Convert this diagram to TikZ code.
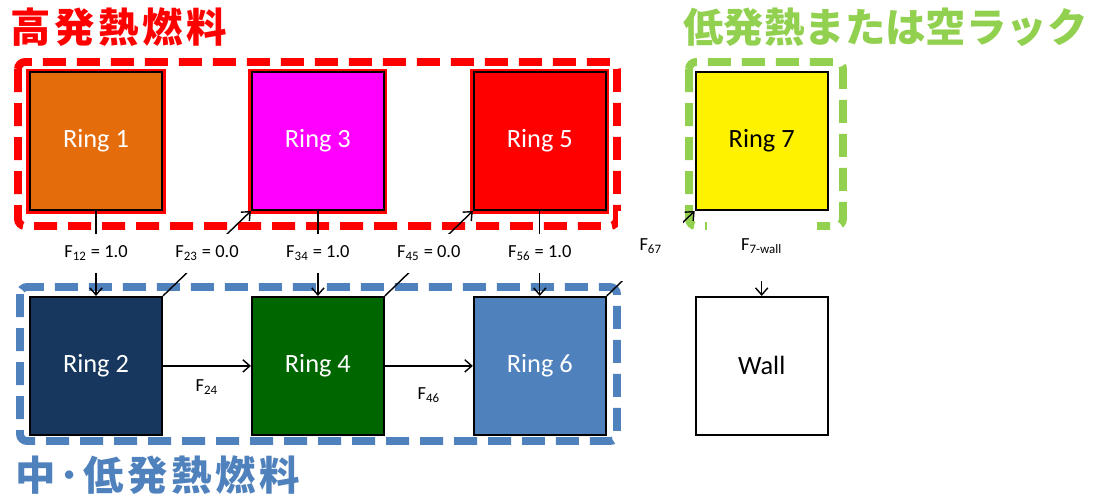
\documentclass[tikz,border=0pt]{standalone}
\usepackage{fontspec}
\setmainfont{Carlito}
\newfontfamily\cjk{Noto Sans CJK JP}
\newfontfamily\cjkwide{Noto Sans CJK JP}[LetterSpace=9]
\usetikzlibrary{positioning,arrows.meta}

\definecolor{hotred}{HTML}{FF0000}
\definecolor{midblue}{HTML}{4F81BD}
\definecolor{lowgreen}{HTML}{92D050}
\definecolor{ringorange}{HTML}{E46C0A}
\definecolor{ringpink}{HTML}{FF00FF}
\definecolor{ringnavy}{HTML}{17375E}
\definecolor{ringgreen}{HTML}{006600}

\begin{document}
\begin{tikzpicture}[x=0.02cm, y=-0.02cm, node distance=1.7cm and 1.76cm,
    >={Straight Barb[length=4pt,width=7pt]},
    ring/.style={draw, line width=1.1pt, minimum width=2.64cm, minimum height=2.76cm,
      inner sep=0pt, text=white, font=\fontsize{15}{18}\selectfont},
    hot/.style={ring, preaction={draw=hotred, line width=4pt}},
    flabel/.style={fill=white, inner sep=1pt, minimum height=0.78cm,
      font=\fontsize{10.5}{12}\selectfont},
    frame/.style={line width=4.5pt, dash pattern=on 0.46cm off 0.22cm, rounded corners=4pt},
    title/.style={anchor=west, inner sep=0pt, font=\cjk\bfseries\fontsize{23}{27}\selectfont}]
  \useasboundingbox (0,0) rectangle (1094,501);

  % group frames
  \draw[frame, draw=hotred] (18,62) rectangle (617,226);
  \draw[frame, draw=midblue] (20,287) rectangle (617,441);
  \draw[frame, draw=lowgreen] (689,62) rectangle (843,226);

  % group titles
  \node[title, text=hotred, font=\cjkwide\bfseries\fontsize{23}{27}\selectfont] (hottitle) at (10,27) {高発熱燃料};
  \node[title, text=lowgreen] (lowtitle) at (683,27) {低発熱または空ラック};
  \node[title, text=midblue, font=\cjkwide\bfseries\fontsize{23}{27}\selectfont] (midtitle) at (15,475) {中･低発熱燃料};

  % rings
  \node[hot, fill=ringorange] (r1) at (96,141) {Ring 1};
  \node[hot, fill=ringpink, right=of r1] (r3) {Ring 3};
  \node[hot, fill=hotred, right=of r3] (r5) {Ring 5};
  \node[ring, fill=yellow, text=black, right=of r5] (r7) {Ring 7};
  \node[ring, fill=ringnavy, below=of r1] (r2) {Ring 2};
  \node[ring, fill=ringgreen, below=of r3] (r4) {Ring 4};
  \node[ring, fill=midblue, below=of r5] (r6) {Ring 6};
  \node[ring, fill=white, text=black, below=of r7] (wall) {Wall};

  % view factors
  \begin{scope}[line width=0.8pt]
    \draw[->] (r1) -- node[flabel] {F\textsubscript{12} = 1.0} (r2);
    \draw[->] (r2.north east) -- node[flabel] {F\textsubscript{23} = 0.0} (r3.south west);
    \draw[->] (r3) -- node[flabel] {F\textsubscript{34} = 1.0} (r4);
    \draw[->] (r4.north east) -- node[flabel] {F\textsubscript{45} = 0.0} (r5.south west);
    \draw[->] (r5) -- node[flabel] {F\textsubscript{56} = 1.0} (r6);
    \draw[->] (r6.north east) -- node[flabel, yshift=0.14cm, minimum width=1.3cm, minimum height=1.4cm] {F\textsubscript{67}} (r7.south west);
    \draw[->] (r7) -- node[flabel, yshift=0.14cm, minimum width=2.2cm, minimum height=1.4cm] {F\textsubscript{7-wall}} (wall);
    \draw[->] (r2) -- node[below=0.15cm, font=\fontsize{10.5}{12}\selectfont] {F\textsubscript{24}} (r4);
    \draw[->] (r4) -- node[below=0.3cm, font=\fontsize{10.5}{12}\selectfont] {F\textsubscript{46}} (r6);
  \end{scope}
\end{tikzpicture}
\end{document}
